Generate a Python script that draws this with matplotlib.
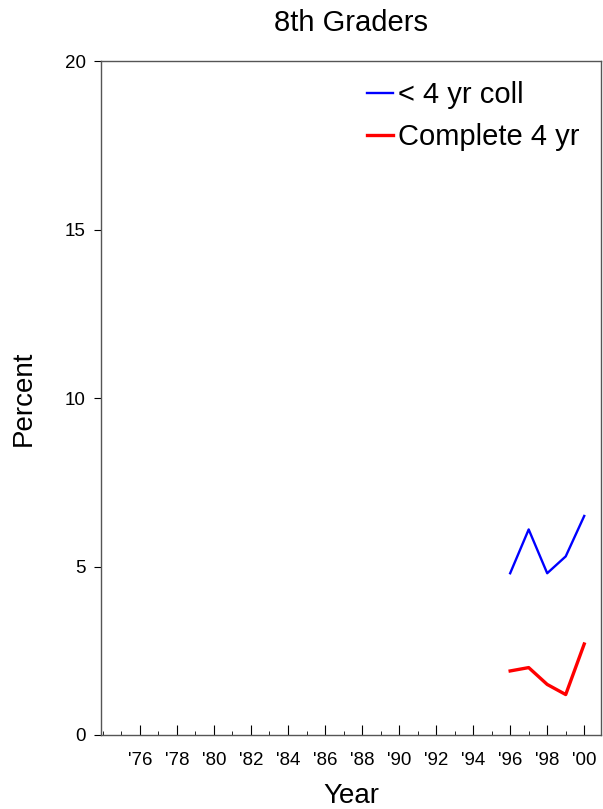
import matplotlib
matplotlib.use('Agg')
import matplotlib.pyplot as plt
from matplotlib.ticker import MultipleLocator

plt.rcParams['font.family'] = ['Liberation Sans', 'DejaVu Sans']

years = [1996, 1997, 1998, 1999, 2000]
less_4yr = [4.8, 6.1, 4.8, 5.3, 6.5]
complete_4yr = [1.9, 2.0, 1.5, 1.2, 2.7]

tick_years = list(range(1976, 2001, 2))
tick_labels = ["'" + str(y)[2:] for y in tick_years]

fig = plt.figure(figsize=(6.03, 8.09), dpi=100)
ax = fig.add_axes([0.1675, 0.0915, 0.829, 0.833])

ax.plot(years, less_4yr, color='#0000ff', lw=1.7, label='< 4 yr coll')
ax.plot(years, complete_4yr, color='#ff0000', lw=2.4, label='Complete 4 yr')

ax.set_xlim(1973.9, 2000.9)
ax.set_ylim(0, 20)
ax.set_yticks([0, 5, 10, 15, 20])
ax.set_xticks(tick_years)
ax.set_xticklabels(tick_labels)
ax.xaxis.set_minor_locator(MultipleLocator(1))
ax.tick_params(axis='x', which='major', direction='in', length=7, labelsize=13.5, pad=12)
ax.tick_params(axis='x', which='minor', direction='in', length=3)
ax.tick_params(axis='y', direction='out', length=5, labelsize=13.5, pad=6)

for s in ax.spines.values():
    s.set_color('#555555')
    s.set_linewidth(1)

ax.set_title('8th Graders', fontsize=21, pad=22)
ax.set_xlabel('Year', fontsize=20, labelpad=10)
ax.set_ylabel('Percent', fontsize=20, labelpad=20)

ax.legend(loc='upper left', frameon=False, fontsize=21, handlelength=0.9,
          handletextpad=0.17, labelspacing=0.47, borderpad=0, borderaxespad=0,
          bbox_to_anchor=(0.532, 0.970))

fig.savefig('out.png', dpi=100)
